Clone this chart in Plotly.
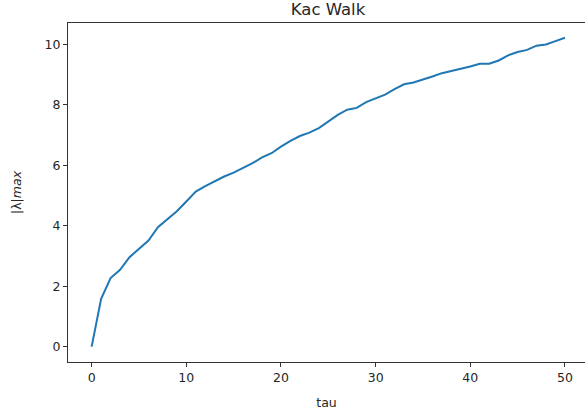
import plotly.graph_objects as go

tau = list(range(0, 51))
lam_max = [0.00, 1.58, 2.27, 2.54, 2.96, 3.23, 3.51, 3.95, 4.20, 4.48,
           4.80, 5.13, 5.31, 5.47, 5.63, 5.76, 5.92, 6.07, 6.26, 6.40,
           6.62, 6.81, 6.97, 7.08, 7.23, 7.45, 7.67, 7.84, 7.90, 8.09,
           8.21, 8.34, 8.52, 8.68, 8.74, 8.83, 8.94, 9.05, 9.12, 9.19,
           9.27, 9.36, 9.36, 9.47, 9.64, 9.75, 9.82, 9.96, 10.00, 10.11,
           10.22]

x_ticks = [0, 10, 20, 30, 40, 50]
y_ticks = [0, 2, 4, 6, 8, 10]

fig = go.Figure()
fig.add_trace(go.Scatter(x=tau, y=lam_max, mode="lines",
                         line=dict(color="#1f77b4", width=2)))

font = "DejaVu Sans"
fig.update_layout(
    width=585, height=414,
    margin=dict(l=68, r=0, t=23, b=52, autoexpand=False),
    paper_bgcolor="white", plot_bgcolor="white",
    showlegend=False,
    font=dict(family=font, size=12.5, color="#262626"),
    title=dict(text="Kac Walk", x=328/585, xanchor="center",
               y=1 - 3/414, yanchor="top",
               font=dict(family=font, size=16.5, color="#262626")),
)
fig.update_xaxes(range=[-2.5, 52.12], tickvals=x_ticks, showgrid=False, zeroline=False,
                 showline=True, linecolor="#333333", linewidth=1, mirror=True,
                 ticks="outside", ticklen=4, tickcolor="#333333", automargin=False,
                 title=dict(text="tau", font=dict(size=12.5), standoff=14))
fig.update_yaxes(range=[-0.51, 10.71], tickvals=y_ticks, showgrid=False, zeroline=False,
                 showline=True, linecolor="#333333", linewidth=1, mirror=False,
                 ticks="outside", ticklen=4, tickcolor="#333333", automargin=False,
                 title=dict(text="|λ|<i>max</i>", font=dict(size=12.5), standoff=20))

fig.write_html("out.html", config={"displayModeBar": False},
               post_script="document.body.style.margin='0';")
